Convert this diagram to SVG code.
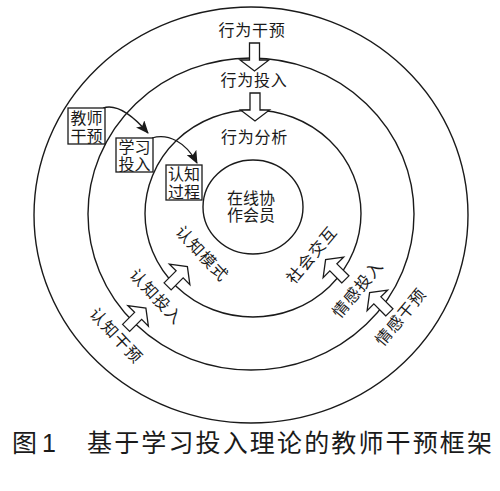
<svg xmlns="http://www.w3.org/2000/svg" width="500" height="491" viewBox="0 0 500 491">
<style>
.ring{fill:none;stroke:#1a1a1a;stroke-width:1.4}
.box{fill:#fff;stroke:#1a1a1a;stroke-width:1.3}
.t{font-family:"Liberation Sans","Noto Sans CJK SC",sans-serif;font-size:16px;fill:#1a1a1a;text-anchor:middle;dominant-baseline:central}
.r{letter-spacing:1.2px}
.blk{fill:#fff;stroke:#1a1a1a;stroke-width:1.3;stroke-linejoin:miter}
.cur{fill:none;stroke:#1a1a1a;stroke-width:1.3}
.cap{font-family:"Liberation Sans","Noto Sans CJK SC",sans-serif;font-size:25px;fill:#1a1a1a;dominant-baseline:central}
</style>
<defs>
<path id="barrow" d="M-5,14 L-5,-3 L-14.5,-3 L0,-14 L14.5,-3 L5,-3 L5,14 Z"/>
<marker id="ah" viewBox="0 0 13 11" refX="12" refY="5.5" markerWidth="13" markerHeight="11" markerUnits="userSpaceOnUse" orient="auto">
<path d="M0,0 L13,5.5 L0,11 L3,5.5 Z" fill="#1a1a1a"/>
</marker>
</defs>
<rect width="500" height="491" fill="#fff"/>

<g id="ring-intervention">
<ellipse class="ring" cx="251" cy="215" rx="217" ry="208"/>
<text class="t" x="252" y="30" letter-spacing="0.7">行为干预</text>
<text class="t r" transform="translate(116,336) rotate(47)">认知干预</text>
<text class="t r" transform="translate(401,317) rotate(-50)">情感干预</text>
</g>
<g id="ring-engagement">
<ellipse class="ring" cx="251" cy="214" rx="163" ry="156"/>
<text class="t" x="254" y="80" letter-spacing="0.7">行为投入</text>
<text class="t r" transform="translate(156,297) rotate(47)">认知投入</text>
<text class="t r" transform="translate(358,289) rotate(-50)">情感投入</text>
</g>
<g id="ring-analysis">
<ellipse class="ring" cx="253" cy="213.5" rx="108" ry="103.5"/>
<text class="t" x="254.5" y="137" letter-spacing="0.7">行为分析</text>
<text class="t r" transform="translate(202,254) rotate(47)">认知模式</text>
<text class="t r" transform="translate(312,255) rotate(-50)">社会交互</text>
</g>
<g id="center">
<ellipse class="ring" cx="253" cy="207" rx="50" ry="47"/>
<text class="t"><tspan x="251" y="198">在线协</tspan><tspan x="251" y="215">作会员</tspan></text>
</g>

<g id="connectors">
<use href="#barrow" class="blk" transform="translate(254.5,57) rotate(180)"/>
<use href="#barrow" class="blk" transform="translate(255,107) rotate(180)"/>
<use href="#barrow" class="blk" transform="translate(136,318) rotate(45)"/>
<use href="#barrow" class="blk" transform="translate(177.5,276.5) rotate(45)"/>
<use href="#barrow" class="blk" transform="translate(335.5,269.5) rotate(-45)"/>
<use href="#barrow" class="blk" transform="translate(379.5,302.5) rotate(-45)"/>
<path class="cur" d="M103,108 C118,103 135,118 148,133" marker-end="url(#ah)"/>
<path class="cur" d="M152,138 C168,133 186,142 197,163" marker-end="url(#ah)"/>
</g>

<g id="box-teacher">
<rect class="box" x="68" y="108" width="37" height="36"/>
<text class="t"><tspan x="86.5" y="118">教师</tspan><tspan x="86.5" y="136">干预</tspan></text>
</g>
<g id="box-learning">
<rect class="box" x="116" y="138" width="37" height="34"/>
<text class="t"><tspan x="134.5" y="147">学习</tspan><tspan x="134.5" y="164">投入</tspan></text>
</g>
<g id="box-cognition">
<rect class="box" x="166" y="165" width="36" height="35"/>
<text class="t"><tspan x="184" y="174">认知</tspan><tspan x="184" y="192">过程</tspan></text>
</g>

<g id="caption">
<text class="cap" x="12" y="443">图</text>
<text class="cap" x="42" y="443">1</text>
<text class="cap" x="87" y="443" textLength="405" lengthAdjust="spacing">基于学习投入理论的教师干预框架</text>
</g>
</svg>
